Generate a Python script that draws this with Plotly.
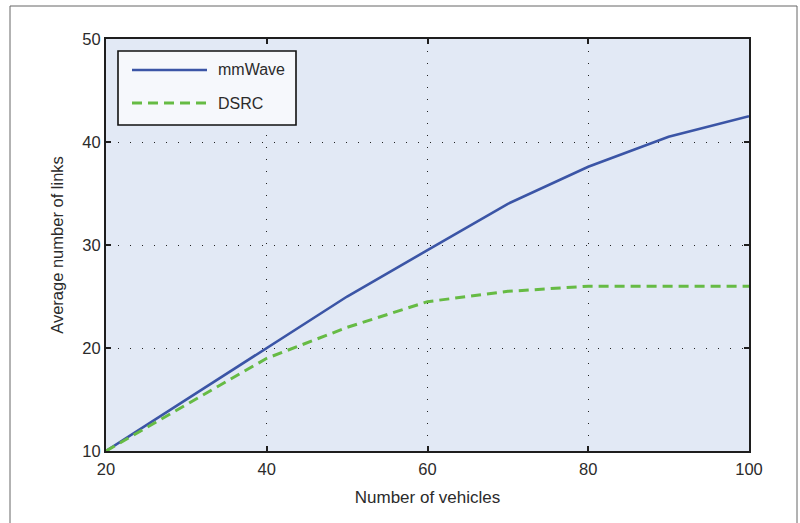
import plotly.graph_objects as go

vehicles = [20, 30, 40, 50, 60, 70, 80, 90, 100]
mmwave = [10, 15, 20, 25, 29.5, 34, 37.6, 40.5, 42.5]
dsrc = [10, 14.5, 19, 22, 24.5, 25.5, 26, 26, 26]
x_ticks = [20, 40, 60, 80, 100]
y_ticks = [10, 20, 30, 40, 50]

W, H = 800, 523
L, R, T, B = 106, 51, 39, 72
PW, PH = W - L - R, H - T - B

def px(x):  # x in screen pixels -> paper
    return (x - L) / PW

def py(y):  # y in screen pixels -> paper
    return (H - B - y) / PH

FONT = "Liberation Sans, Arial, sans-serif"
TXT = "#2b2b2b"
BLUE = "#3b55a6"
GREEN = "#66bb44"

fig = go.Figure()
fig.add_trace(go.Scatter(x=vehicles, y=mmwave, mode="lines", name="mmWave",
                         line=dict(color=BLUE, width=2.6), showlegend=False))
fig.add_trace(go.Scatter(x=vehicles, y=dsrc, mode="lines", name="DSRC",
                         line=dict(color=GREEN, width=3, dash="10px,6px"), showlegend=False))

axis_common = dict(
    showline=True, linecolor="#1e1e1e", linewidth=2, mirror="allticks",
    ticks="inside", ticklen=5, tickcolor="#1e1e1e", tickwidth=1.5,
    showgrid=True, gridcolor="#222222", gridwidth=1, griddash="1px,11px",
    zeroline=False, tickfont=dict(family=FONT, size=16.5, color=TXT),
)

fig.update_xaxes(range=[20, 100], tickvals=x_ticks, ticklabelstandoff=2,
                 title=dict(text="Number of vehicles", font=dict(family=FONT, size=17, color=TXT), standoff=14),
                 **axis_common)
fig.update_yaxes(range=[10, 50], tickvals=y_ticks,
                 title=dict(text="Average number of links", font=dict(family=FONT, size=16.5, color=TXT), standoff=15),
                 **axis_common)

shapes = []
# outer frame
shapes.append(dict(type="rect", xref="paper", yref="paper",
                   x0=px(10), x1=px(797), y0=py(560), y1=py(6),
                   line=dict(color="#666666", width=1), fillcolor="rgba(0,0,0,0)", layer="below"))
# legend box
shapes.append(dict(type="rect", xref="paper", yref="paper",
                   x0=px(118), x1=px(296), y0=py(125), y1=py(51),
                   line=dict(color="#111111", width=1.6), fillcolor="#f6f8fc"))
shapes.append(dict(type="line", xref="paper", yref="paper",
                   x0=px(132), x1=px(207), y0=py(70), y1=py(70),
                   line=dict(color=BLUE, width=2.6)))
shapes.append(dict(type="line", xref="paper", yref="paper",
                   x0=px(132), x1=px(207), y0=py(103), y1=py(103),
                   line=dict(color=GREEN, width=3, dash="10px,6px")))

annotations = [
    dict(xref="paper", yref="paper", x=px(216), y=py(70), text="mmWave", showarrow=False,
         xanchor="left", yanchor="middle", font=dict(family=FONT, size=16, color=TXT)),
    dict(xref="paper", yref="paper", x=px(216), y=py(103), text="DSRC", showarrow=False,
         xanchor="left", yanchor="middle", font=dict(family=FONT, size=16, color=TXT)),
]

fig.update_layout(
    width=W, height=H,
    margin=dict(l=L, r=R, t=T, b=B),
    paper_bgcolor="white", plot_bgcolor="#e2e9f5",
    shapes=shapes, annotations=annotations, showlegend=False,
)

fig.write_html("out.html", config={"displayModeBar": False},
               post_script="document.body.style.margin='0';document.body.style.overflow='hidden';")
